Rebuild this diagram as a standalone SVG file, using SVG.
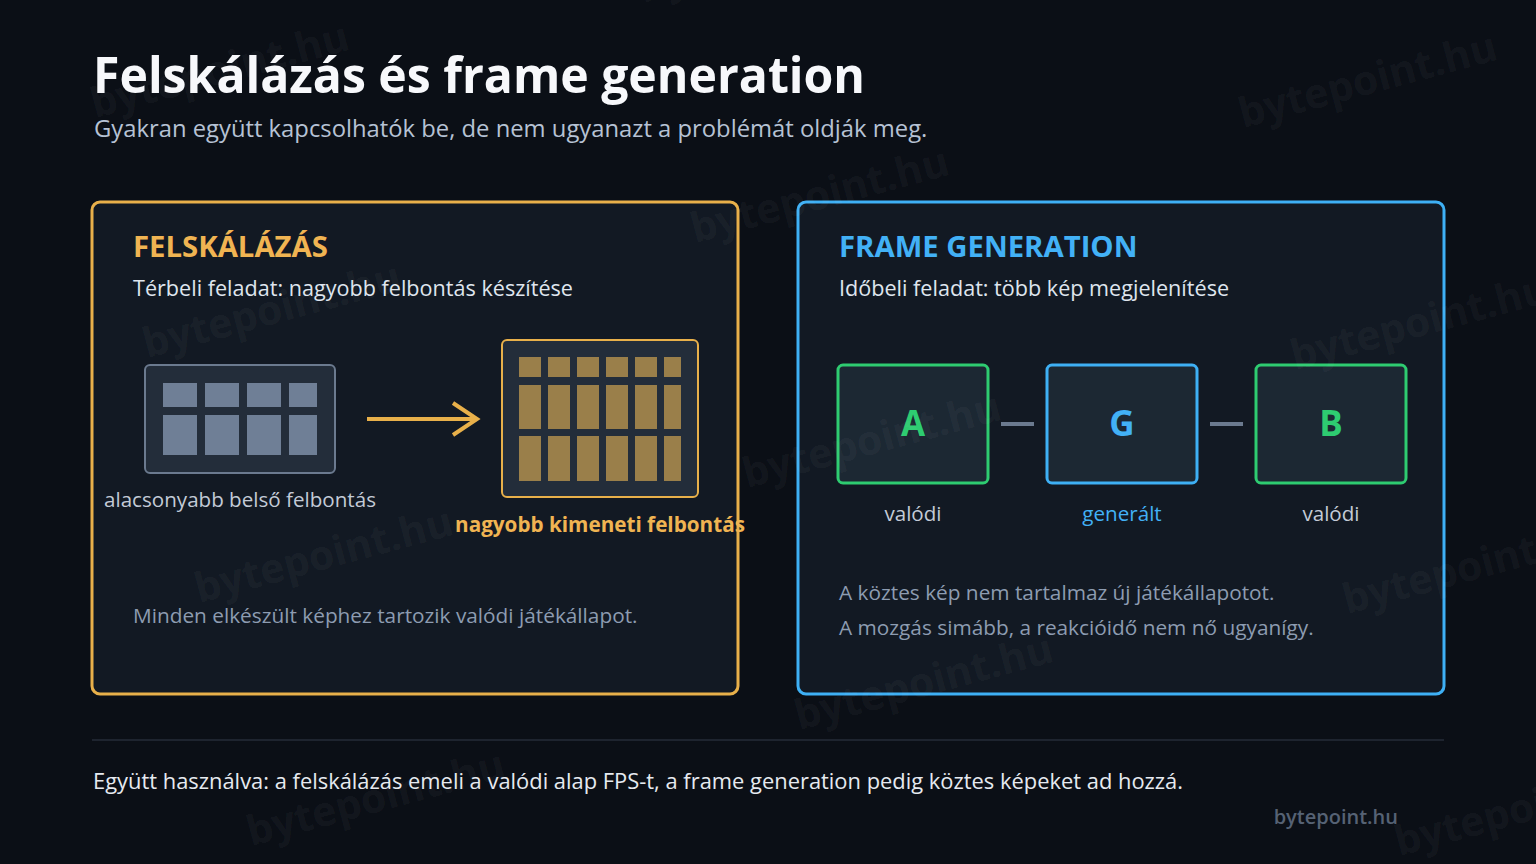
<svg xmlns="http://www.w3.org/2000/svg" width="1536" height="864" viewBox="0 0 1536 864">
<style>
text{font-family:"Open Sans","Noto Sans","Liberation Sans",sans-serif}
.title{font-size:50px;font-weight:700;fill:#f7f8fb}
.sub{font-size:23.8px;fill:#b6c2d4}
.h{font-size:29.3px;font-weight:700}
.desc{font-size:21.6px;fill:#dfe5ee}
.note{font-size:20.8px;fill:#8d9cb1}
.lbl{font-size:20.6px;fill:#c3cbd7}
.panel{fill:#121923;stroke-width:3}
.lowcell{fill:#6f7f96}
.hicell{fill:#9a7f4a}
.frame{fill:#1c2833;stroke-width:3}
.letter{font-size:35px;font-weight:700;text-anchor:middle}
.wm{font-size:41px;font-weight:700;fill:#ffffff;fill-opacity:0.05}
</style>
<rect width="1536" height="864" fill="#0b0f16"/>
<g id="header">
<text class="title" x="93" y="93" textLength="772" lengthAdjust="spacingAndGlyphs">Felskálázás és frame generation</text>
<text class="sub" x="94" y="137">Gyakran együtt kapcsolhatók be, de nem ugyanazt a problémát oldják meg.</text>
</g>
<g id="panel-upscaling">
<rect class="panel" x="92" y="202" width="646" height="492" rx="8" stroke="#e8b04a"/>
<text class="h" x="133" y="257" fill="#f0b452">FELSKÁLÁZÁS</text>
<text class="desc" x="133" y="296">Térbeli feladat: nagyobb felbontás készítése</text>
<text class="note" x="133" y="623">Minden elkészült képhez tartozik valódi játékállapot.</text>
</g>
<g id="low-res">
<rect x="145" y="365" width="190" height="108" rx="5" fill="#232d3a" stroke="#6b7a8f" stroke-width="2"/>
<rect class="lowcell" x="163" y="383" width="34" height="24"/>
<rect class="lowcell" x="205" y="383" width="34" height="24"/>
<rect class="lowcell" x="247" y="383" width="34" height="24"/>
<rect class="lowcell" x="289" y="383" width="28" height="24"/>
<rect class="lowcell" x="163" y="415" width="34" height="40"/>
<rect class="lowcell" x="205" y="415" width="34" height="40"/>
<rect class="lowcell" x="247" y="415" width="34" height="40"/>
<rect class="lowcell" x="289" y="415" width="28" height="40"/>
<text class="lbl" x="240" y="507" text-anchor="middle">alacsonyabb belső felbontás</text>
</g>
<g id="high-res">
<rect x="502" y="340" width="196" height="157" rx="5" fill="#232d3a" stroke="#e8b04a" stroke-width="2"/>
<g class="hicell">
<rect x="519" y="357" width="22" height="20"/><rect x="548" y="357" width="22" height="20"/><rect x="577" y="357" width="22" height="20"/><rect x="606" y="357" width="22" height="20"/><rect x="635" y="357" width="22" height="20"/><rect x="664" y="357" width="17" height="20"/>
<rect x="519" y="385" width="22" height="44"/><rect x="548" y="385" width="22" height="44"/><rect x="577" y="385" width="22" height="44"/><rect x="606" y="385" width="22" height="44"/><rect x="635" y="385" width="22" height="44"/><rect x="664" y="385" width="17" height="44"/>
<rect x="519" y="436" width="22" height="45"/><rect x="548" y="436" width="22" height="45"/><rect x="577" y="436" width="22" height="45"/><rect x="606" y="436" width="22" height="45"/><rect x="635" y="436" width="22" height="45"/><rect x="664" y="436" width="17" height="45"/>
</g>
<text x="600" y="532" text-anchor="middle" font-size="20.7" font-weight="700" fill="#f0b452">nagyobb kimeneti felbontás</text>
</g>
<g id="panel-framegen">
<rect class="panel" x="798" y="202" width="646" height="492" rx="8" stroke="#3eb0f5"/>
<text class="h" x="839" y="257" fill="#42b1f6">FRAME GENERATION</text>
<text class="desc" x="839" y="296">Időbeli feladat: több kép megjelenítése</text>
<text class="note" x="839" y="600">A köztes kép nem tartalmaz új játékállapotot.</text>
<text class="note" x="839" y="635">A mozgás simább, a reakcióidő nem nő ugyanígy.</text>
</g>
<g id="frame-A">
<rect class="frame" x="838" y="365" width="150" height="118" rx="5" stroke="#2ecc71"/>
<text class="letter" x="913" y="436" fill="#2ecc71">A</text>
<text class="lbl" x="913" y="521" text-anchor="middle">valódi</text>
</g>
<g id="frame-G">
<rect class="frame" x="1047" y="365" width="150" height="118" rx="5" stroke="#3eb0f5"/>
<text class="letter" x="1122" y="436" fill="#42b1f6">G</text>
<text class="lbl" x="1122" y="521" text-anchor="middle" style="fill:#42b1f6">generált</text>
</g>
<g id="frame-B">
<rect class="frame" x="1256" y="365" width="150" height="118" rx="5" stroke="#2ecc71"/>
<text class="letter" x="1331" y="436" fill="#2ecc71">B</text>
<text class="lbl" x="1331" y="521" text-anchor="middle">valódi</text>
</g>
<g id="connectors">
<path d="M367 419 H476 M453 403 L477 419 L453 435" fill="none" stroke="#e8b04a" stroke-width="4"/>
<line x1="1001" y1="424" x2="1034" y2="424" stroke="#6b7a8f" stroke-width="4"/>
<line x1="1210" y1="424" x2="1243" y2="424" stroke="#6b7a8f" stroke-width="4"/>
</g>
<g id="footer">
<line x1="92" y1="740" x2="1444" y2="740" stroke="#262d38" stroke-width="1.5"/>
<text x="93" y="789" font-size="21.9" fill="#e6eaf0">Együtt használva: a felskálázás emeli a valódi alap FPS-t, a frame generation pedig köztes képeket ad hozzá.</text>
<text x="1398" y="824" font-size="20" font-weight="600" fill="#566274" text-anchor="end">bytepoint.hu</text>
</g>
<g id="watermarks">
<text class="wm" transform="translate(643 3) rotate(-15)">bytepoint.hu</text>
<text class="wm" transform="translate(95 118) rotate(-15)">bytepoint.hu</text>
<text class="wm" transform="translate(1243 128) rotate(-15)">bytepoint.hu</text>
<text class="wm" transform="translate(695 243) rotate(-15)">bytepoint.hu</text>
<text class="wm" transform="translate(147 358) rotate(-15)">bytepoint.hu</text>
<text class="wm" transform="translate(1295 370) rotate(-15)">bytepoint.hu</text>
<text class="wm" transform="translate(747 488) rotate(-15)">bytepoint.hu</text>
<text class="wm" transform="translate(199 603) rotate(-15)">bytepoint.hu</text>
<text class="wm" transform="translate(1347 614) rotate(-15)">bytepoint.hu</text>
<text class="wm" transform="translate(799 730) rotate(-15)">bytepoint.hu</text>
<text class="wm" transform="translate(251 846) rotate(-15)">bytepoint.hu</text>
<text class="wm" transform="translate(1399 856) rotate(-15)">bytepoint.hu</text>
</g>
</svg>
